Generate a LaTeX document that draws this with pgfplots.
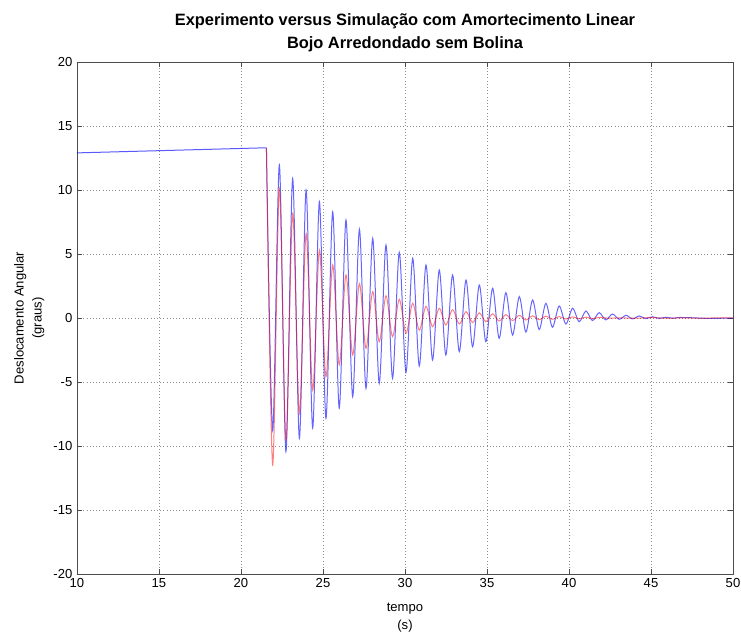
\documentclass[border=0pt]{standalone}
\usepackage{pgfplots}
\pgfplotsset{compat=1.18}
\usepackage{fontspec}
\setmainfont{Liberation Sans}
\begin{document}
\begin{tikzpicture}
\useasboundingbox (-57.75pt,-44.25pt) rectangle (498pt,430.5pt);
\begin{axis}[
  at={(0,0)}, anchor=south west,
  scale only axis, width=492pt, height=384pt,
  xmin=10, xmax=50, ymin=-20, ymax=20,
  xtick={10,15,...,50}, ytick={-20,-15,...,20},
  xticklabels={10,15,20,25,30,35,40,45,50},
  yticklabels={{-20},{-15},{-10},{-5},{0},{5},{10},{15},{20}},
  tick align=inside,
  major tick length=4pt,
  grid=major,
  major grid style={dotted, black!45, line width=0.45pt},
  axis line style={black!70, line width=0.5pt},
  tick style={black!70, line width=0.5pt},
  ticklabel style={font=\fontsize{9.8}{11}\selectfont},
  title={Experimento versus Simulação com Amortecimento Linear\\Bojo Arredondado sem Bolina},
  title style={font=\bfseries\fontsize{12.3}{17.6}\selectfont, align=center, at={(0.5,1)}, anchor=south, yshift=-2pt},
  xlabel={tempo\\(s)},
  xlabel style={font=\fontsize{9.8}{13.5}\selectfont, align=center, yshift=-4.5pt},
  ylabel={Deslocamento Angular\\(graus)},
  ylabel style={font=\fontsize{9.8}{13.5}\selectfont, align=center},
]
% initial flat part
\addplot[blue, opacity=0.65, line width=0.75pt] coordinates {(10,12.9) (21.55,13.3)};
% blue series
\addplot[blue, opacity=0.6, line width=0.75pt, smooth] coordinates {
(21.55,13.3) (21.93,-8.8) (22.34,11.95) (22.74,-10.44) (23.15,10.9) (23.56,-9.4) (23.97,10.0) (24.37,-8.6) (24.78,9.1) (25.18,-7.84) (25.59,8.3) (25.99,-7.05) (26.40,7.66) (26.81,-6.15) (27.22,6.93) (27.62,-5.5) (28.03,6.22) (28.43,-5.1) (28.84,5.7) (29.24,-4.71) (29.65,5.13) (30.06,-4.24) (30.47,4.66) (30.87,-3.75) (31.28,4.14) (31.68,-3.28) (32.09,3.75) (32.49,-2.89) (32.90,3.36) (33.31,-2.63) (33.72,2.97) (34.12,-2.25) (34.53,2.58) (34.93,-1.85) (35.34,2.32) (35.74,-1.59) (36.15,1.98) (36.56,-1.33) (36.97,1.67) (37.37,-1.1) (37.78,1.41) (38.18,-0.9) (38.59,1.15) (38.99,-0.72) (39.40,0.94) (39.81,-0.47) (40.22,0.76) (40.62,-0.29) (41.03,0.55) (41.43,-0.2) (41.84,0.42) (42.24,-0.15) (42.65,0.31) (43.06,-0.1) (43.47,0.21) (43.87,-0.07) (44.28,0.16) (44.68,-0.05) (45.09,0.1) (45.49,-0.03) (45.90,0.06) (46.31,-0.02) (46.72,0.04) (47.5,0.02) (48.5,-0.03) (50,0)
};
% red series
\addplot[red, opacity=0.5, line width=0.75pt, smooth] coordinates {
(21.55,13.3) (21.93,-11.48) (22.34,10.13) (22.74,-9.53) (23.15,8.18) (23.56,-7.45) (23.97,6.6) (24.37,-5.63) (24.78,5.3) (25.18,-4.6) (25.59,4.14) (25.99,-3.67) (26.40,3.36) (26.81,-2.89) (27.22,2.7) (27.62,-2.37) (28.03,2.06) (28.43,-1.85) (28.84,1.74) (29.24,-1.46) (29.65,1.46) (30.06,-1.2) (30.47,1.15) (30.87,-0.94) (31.28,0.92) (31.68,-0.68) (32.09,0.76) (32.49,-0.55) (32.90,0.65) (33.31,-0.47) (33.72,0.5) (34.12,-0.36) (34.53,0.4) (34.93,-0.29) (35.34,0.33) (35.74,-0.24) (36.15,0.26) (36.56,-0.2) (36.97,0.21) (37.37,-0.16) (37.78,0.17) (38.18,-0.13) (38.59,0.14) (38.99,-0.1) (39.40,0.11) (39.81,-0.08) (40.22,0.09) (40.62,-0.06) (41.03,0.07) (41.43,-0.05) (41.84,0.05) (42.5,-0.02) (43,0.02) (44,-0.02) (45,0.03) (46,-0.02) (47,0.02) (48,-0.02) (49,0.01) (50,0)
};
\end{axis}
\end{tikzpicture}
\end{document}
